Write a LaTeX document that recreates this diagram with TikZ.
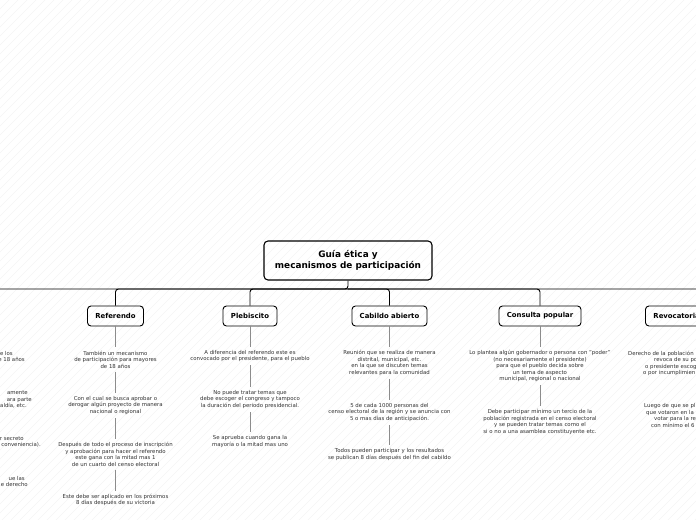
\documentclass[tikz,border=0pt]{standalone}
\usepackage{fontspec}
\setmainfont{DejaVu Sans}
\begin{document}
\begin{tikzpicture}[x=1pt,y=-1pt,
  rootbox/.style={draw, line width=1.1pt, rounded corners=4pt, minimum width=168pt, minimum height=39pt, align=center, font=\fontsize{8.9}{11.5}\selectfont\bfseries, inner sep=0pt},
  head/.style={draw, line width=0.9pt, rounded corners=3.5pt, minimum height=20pt, font=\fontsize{6.9}{8}\selectfont\bfseries, inner sep=0pt},
  info/.style={align=center, font=\fontsize{5.4}{6.5}\selectfont, text=black!80, inner sep=0pt, outer sep=3.5pt},
  frag/.style={font=\fontsize{5.4}{6.5}\selectfont, text=black!80, inner sep=0pt},
  link/.style={draw=black!45, line width=0.6pt},
  bus/.style={line width=0.9pt, rounded corners=3pt}]
\useasboundingbox (0,0) rectangle (696,520);
\clip (0,0) rectangle (696,520);
\fill[white] (0,0) rectangle (696,520);
\foreach \k in {-520,-511,...,700} \draw[black!4, line width=0.4pt] (\k,520) -- (\k+520,0);

% root
\node[rootbox] (root) at (348,260.5) {Guía ética y\\mecanismos de participación};

% headings
\node[head, minimum width=56pt] (ref) at (115.5,316) {Referendo};
\node[head, minimum width=54pt] (ple) at (250,316) {Plebiscito};
\node[head, minimum width=75pt] (cab) at (389.5,316) {Cabildo abierto};
\node[head, minimum width=82pt] (con) at (540,316) {Consulta popular};
\node[head, anchor=west, inner xsep=8pt, text width=100pt, align=left] (rev) at (645,316) {Revocatoria};
\coordinate (lefthead) at (-40,306);

% bus connectors
\coordinate (hub) at (348,289);
\draw[bus] (root.south) -- (hub) -| (lefthead);
\draw[bus] (hub) -| (ref.north);
\draw[bus] (hub) -| (ple.north);
\draw[bus] (hub) -| (cab.north);
\draw[bus] (hub) -| (con.north);
\draw[bus] (hub) -| (rev.north);

% Referendo column
\node[info] (r1) at (115.5,359.5) {También un mecanismo\\de participación para mayores\\de 18 años};
\node[info] (r2) at (115.5,405.5) {Con el cual se busca aprobar o\\derogar algún proyecto de manera\\nacional o regional};
\node[info] (r3) at (115.5,454.2) {Después de todo el proceso de inscripción\\y aprobación para hacer el referendo\\este gana con la mitad mas 1\\de un cuarto del censo electoral};
\node[info] (r4) at (115.5,500) {Este debe ser aplicado en los próximos\\8 días después de su victoria};
\draw[link] (ref) -- (r1);
\draw[link] (r1) -- (r2);
\draw[link] (r2) -- (r3);
\draw[link] (r3) -- (r4);

% Plebiscito column
\node[info] (p1) at (250,356) {A diferencia del referendo este es\\convocado por el presidente, para el pueblo};
\node[info] (p2) at (250,399.5) {No puede tratar temas que\\debe escoger el congreso y tampoco\\la duración del periodo presidencial.};
\node[info] (p3) at (250,441.5) {Se aprueba cuando gana la\\mayoría o la mitad mas uno};
\draw[link] (ple) -- (p1);
\draw[link] (p1) -- (p2);
\draw[link] (p2) -- (p3);

% Cabildo abierto column
\node[info] (c1) at (389.5,362.7) {Reunión que se realiza de manera\\distrital, municipal, etc.\\en la que se discuten temas\\relevantes para la comunidad};
\node[info] (c2) at (389.5,412.5) {5 de cada 1000 personas del\\censo electoral de la región y se anuncia con\\5 o mas días de anticipación.};
\node[info] (c3) at (389.5,454.7) {Todos pueden participar y los resultados\\se publican 8 días después del fin del cabildo};
\draw[link] (cab) -- (c1);
\draw[link] (c1) -- (c2);
\draw[link] (c2) -- (c3);

% Consulta popular column
\node[info] (k1) at (540,366) {Lo plantea algún gobernador o persona con "poder"\\(no necesariamente el presidente)\\para que el pueblo decida sobre\\un tema de aspecto\\municipal, regional o nacional};
\node[info] (k2) at (540,421.8) {Debe participar mínimo un tercio de la\\población registrada en el censo electoral\\y se pueden tratar temas como el\\si o no a una asamblea constituyente etc.};
\draw[link] (con) -- (k1);
\draw[link] (k1) -- (k2);

% Revocatoria column (cut by the right edge)
\node[frag, anchor=base west] (v1) at (628,355) {Derecho de la población};
\node[frag, anchor=base west] (v2) at (654,361.5) {revoca de su po};
\node[frag, anchor=base west] (v3) at (645,368) {o presidente escog};
\node[frag, anchor=base west] (v4) at (643,374.5) {o por incumplimien};
\node[frag, anchor=base west] (v5) at (644,407.5) {Luego de que se pl};
\node[frag, anchor=base west] (v6) at (646,414) {que votaron en la};
\node[frag, anchor=base west] (v7) at (654,420.5) {votar para la re};
\node[frag, anchor=base west] (v8) at (651,427) {con mínimo el 6};

% left column (cut by the left edge)
\node[frag, anchor=base east] (l1) at (13,355) {e los};
\node[frag, anchor=base east] (l2) at (25,361.5) {e 18 años};
\node[frag, anchor=base east] (l3) at (28,394.5) {amente};
\node[frag, anchor=base east] (l4) at (32,401) {ara parte};
\node[frag, anchor=base east] (l5) at (27,407.5) {aldía, etc.};
\node[frag, anchor=base east] (l6) at (24,440) {r secreto};
\node[frag, anchor=base east] (l7) at (41,446.5) {conveniencia).};
\node[frag, anchor=base east] (l8) at (25,480) {ue las};
\node[frag, anchor=base east] (l9) at (28,486.5) {e derecho};
\end{tikzpicture}
\end{document}
